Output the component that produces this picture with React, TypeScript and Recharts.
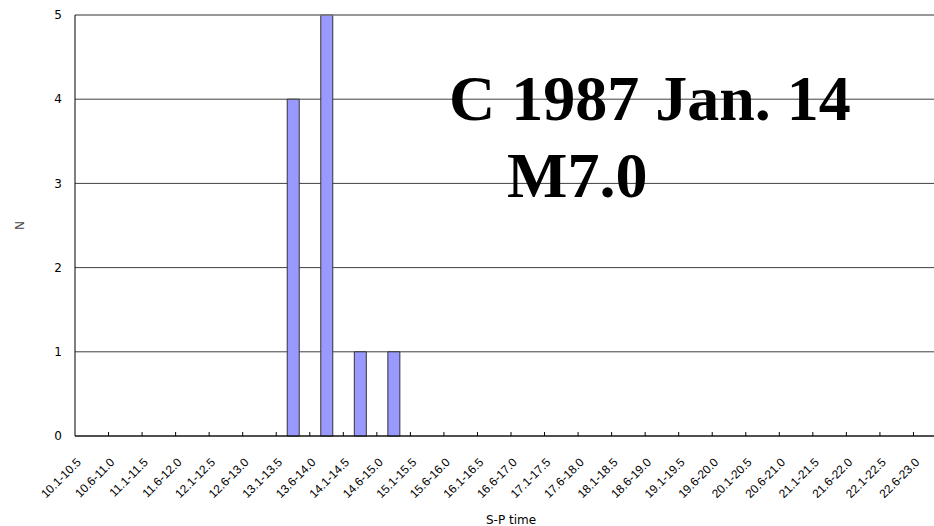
import React from 'react';
import { BarChart, Bar, XAxis, YAxis, CartesianGrid, ReferenceLine, Label } from 'recharts';

const categories: string[] = [
  '10.1-10.5', '10.6-11.0', '11.1-11.5', '11.6-12.0', '12.1-12.5', '12.6-13.0',
  '13.1-13.5', '13.6-14.0', '14.1-14.5', '14.6-15.0', '15.1-15.5', '15.6-16.0',
  '16.1-16.5', '16.6-17.0', '17.1-17.5', '17.6-18.0', '18.1-18.5', '18.6-19.0',
  '19.1-19.5', '19.6-20.0', '20.1-20.5', '20.6-21.0', '21.1-21.5', '21.6-22.0',
  '22.1-22.5', '22.6-23.0',
];
const counts: number[] = [0, 0, 0, 0, 0, 0, 4, 5, 1, 1, 0, 0, 0, 0, 0, 0, 0, 0, 0, 0, 0, 0, 0, 0, 0, 0];
const yTicks: number[] = [0, 1, 2, 3, 4, 5];
const titleLine1 = 'C 1987 Jan. 14';
const titleLine2 = 'M7.0';

const data = categories.map((c, i) => ({ range: c, n: counts[i] }));

const CHART_W = 960;
const CHART_H = 526;
const MARGIN = { top: 15, right: 13, bottom: 0, left: 0 };
const Y_W = 75;
const BAND = (CHART_W - MARGIN.right - MARGIN.left - Y_W) / categories.length;

const XTick = (props: any) => {
  const { x, y, payload } = props;
  const bx = x - BAND / 2;
  return (
    <g>
      {payload.index !== 0 && (
        <line x1={bx} x2={bx} y1={y - 4} y2={y} stroke="#000" strokeWidth={1} />
      )}
      <text
        transform={`translate(${x - 10},${y + 27}) rotate(-45)`}
        textAnchor="end"
        fontFamily="Liberation Sans"
        fontSize={12}
        fill="#000"
      >
        {payload.value}
      </text>
    </g>
  );
};

export default function App() {
  return (
    <div style={{ position: 'absolute', left: 0, top: 0, width: 934, height: 526, overflow: 'hidden', background: '#fff' }}>
      <BarChart width={CHART_W} height={CHART_H} data={data} margin={MARGIN} barSize={12}>
        <CartesianGrid vertical={false} stroke="#404040" />
        <ReferenceLine y={5} stroke="#909090" />
        <XAxis
          dataKey="range"
          interval={0}
          height={90}
          tickLine={false}
          tickSize={0}
          tickMargin={0}
          axisLine={{ stroke: '#000' }}
          tick={<XTick />}
        >
          <Label value="S-P time" position="insideBottom" offset={2} fontFamily="DejaVu Sans" fontSize={12} fill="#000" />
        </XAxis>
        <YAxis
          width={Y_W}
          domain={[0, 5]}
          ticks={yTicks}
          tickLine={false}
          tickSize={6}
          tickMargin={7}
          axisLine={{ stroke: '#000' }}
          tick={{ fontFamily: 'DejaVu Sans', fontSize: 12, fill: '#000' }}
        >
          <Label
            content={(p: any) => {
              const vb = p.viewBox || {};
              const cy = (vb.y || 0) + (vb.height || 0) / 2;
              return (
                <text
                  x={20}
                  y={cy}
                  transform={`rotate(-90, 20, ${cy})`}
                  textAnchor="middle"
                  dominantBaseline="central"
                  fontFamily="DejaVu Sans"
                  fontSize={12}
                  fill="#444"
                >
                  N
                </text>
              );
            }}
          />
        </YAxis>
        <Bar dataKey="n" fill="#9999FF" stroke="#333" strokeWidth={1} isAnimationActive={false} />
      </BarChart>
      <svg width={934} height={526} style={{ position: 'absolute', left: 0, top: 0, pointerEvents: 'none' }}>
        <text x={449} y={120} fontFamily="Liberation Serif" fontWeight="bold" fontSize={64} fill="#000">
          {titleLine1}
        </text>
        <text x={507} y={197} fontFamily="Liberation Serif" fontWeight="bold" fontSize={64} fill="#000">
          {titleLine2}
        </text>
      </svg>
    </div>
  );
}
